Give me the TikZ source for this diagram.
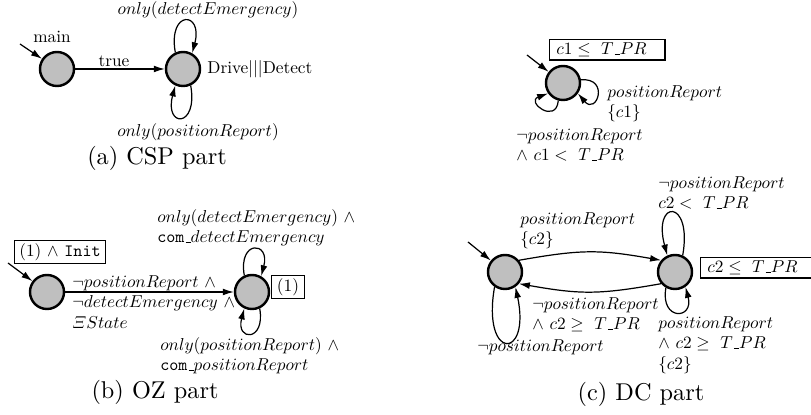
\documentclass[tikz,border=0pt]{standalone}
\usepackage{amsmath}
\usetikzlibrary{arrows.meta}
\newcommand{\usc}{\kern.06em\vbox{\hrule width .3em height .5pt}}
\begin{document}
\begin{tikzpicture}[x=0.4115pt, y=-0.4115pt,
    state/.style={circle, draw, line width=1pt, fill=black!25, minimum size=14pt, inner sep=0pt},
    inv/.style={draw, line width=0.55pt, inner xsep=3pt, inner ysep=1.8pt, scale=0.71, transform shape},
    lbl/.style={inner sep=0pt, align=left, scale=0.71, transform shape},
    capt/.style={inner sep=0pt},
    tr/.style={line width=0.5pt, -{Latex[length=4.5pt,width=2.8pt]}}]
    \useasboundingbox (0,0) rectangle (811,415);
    \foreach \n/\x/\y in {a0/57/69, a1/183/69, b0/47/292, b1/252/292, c0/563/83, c1/505/272, c2/675/272}{
        \node[state] (\n) at (\x,\y) {};
    }
    \coordinate (ia) at (20,44);
    \coordinate (ib) at (8,263);
    \coordinate (ic) at (527,55);
    \coordinate (id) at (468,242);
    % CSP part
    \draw[tr] (ia) -- (a0);
    \draw[tr] (a0) -- (a1);
    \draw[tr] (a1.115) .. controls +(100:18pt) and +(75:18pt) .. (a1.60);
    \draw[tr] (a1.-65) .. controls +(-80:18pt) and +(-105:18pt) .. (a1.-115);
    \node[lbl] (amain) at (52,37) {main};
    \node[lbl] (atrue) at (114,61) {true};
    \node[lbl] (atop) at (208,10) {$only(detectEmergency)$};
    \node[lbl] (abot) at (198,132) {$only(positionReport)$};
    \node[lbl, anchor=west] (aname) at (207,69) {Drive$|||$Detect};
    \node[capt] (acap) at (157,158) {(a) CSP part};
    % OZ part
    \node[inv] (binit) at (60,252) {(1) $\wedge$ \texttt{Init}};
    \draw[tr] (ib) -- (b0);
    \draw[tr] (b0) -- (b1);
    \draw[tr] (b1.115) .. controls +(100:15pt) and +(75:15pt) .. (b1.60);
    \draw[tr] (b1.-65) .. controls +(-80:14pt) and +(-105:14pt) .. (b1.-115);
    \node[lbl, anchor=north west] (bedge) at (72,275) {$\neg positionReport\ \wedge$\\ $\neg detectEmergency\ \wedge$\\ $\varXi State$};
    \node[lbl, anchor=north west] (btop) at (157,209) {$only(detectEmergency)\ \wedge$\\ \texttt{com}\usc$detectEmergency$};
    \node[lbl, anchor=north west] (bbot) at (160,337) {$only(positionReport)\ \wedge$\\ \texttt{com}\usc$positionReport$};
    \node[inv] (binv) at (288,287) {(1)};
    \node[capt] (bcap) at (155,392) {(b) OZ part};
    % DC part
    \node[inv, anchor=west, text width=59pt, inner xsep=4pt] (cinv) at (549,50) {$c1 \leq\ T\usc PR$};
    \draw[tr] (ic) -- (c0);
    \draw[tr] (c0.10) .. controls +(5:12pt) and +(-50:12pt) .. (c0.-35);
    \draw[tr] (c0.-105) .. controls +(-95:10pt) and +(-160:10pt) .. (c0.-145);
    \node[lbl, anchor=north west] (cright) at (607,85) {$positionReport$\\ $\{c1\}$};
    \node[lbl, anchor=north west] (cbot) at (516,128) {$\neg positionReport$\\ $\wedge\ c1 <\ T\usc PR$};
    \draw[tr] (id) -- (c1);
    \draw[tr] (c1.40) .. controls +(10:26pt) and +(170:26pt) .. (c2.140);
    \draw[tr] (c2.-140) .. controls +(-170:26pt) and +(-10:26pt) .. (c1.-40);
    \draw[tr] (c1.-125) .. controls +(-100:31pt) and +(-78:31pt) .. (c1.-55);
    \draw[tr] (c2.65) .. controls +(80:24pt) and +(105:24pt) .. (c2.115);
    \draw[tr] (c2.-120) .. controls +(-100:14pt) and +(-75:14pt) .. (c2.-55);
    \node[inv, anchor=west, text width=70pt, inner xsep=4pt] (dinv) at (700,268) {$c2 \leq\ T\usc PR$};
    \node[lbl, anchor=north west] (dtop) at (520,212) {$positionReport$\\ $\{c2\}$};
    \node[lbl, anchor=north west] (dback) at (532,297) {$\neg positionReport$\\ $\wedge\ c2 \geq\ T\usc PR$};
    \node[lbl, anchor=north west] (dloop) at (477,339) {$\neg positionReport$};
    \node[lbl, anchor=north west] (drtop) at (658,176) {$\neg positionReport$\\ $c2 <\ T\usc PR$};
    \node[lbl, anchor=north west] (drbot) at (658,316) {$positionReport$\\ $\wedge\ c2 \geq\ T\usc PR$\\ $\{c2\}$};
    \node[capt] (ccap) at (641,394) {(c) DC part};
\end{tikzpicture}
\end{document}
